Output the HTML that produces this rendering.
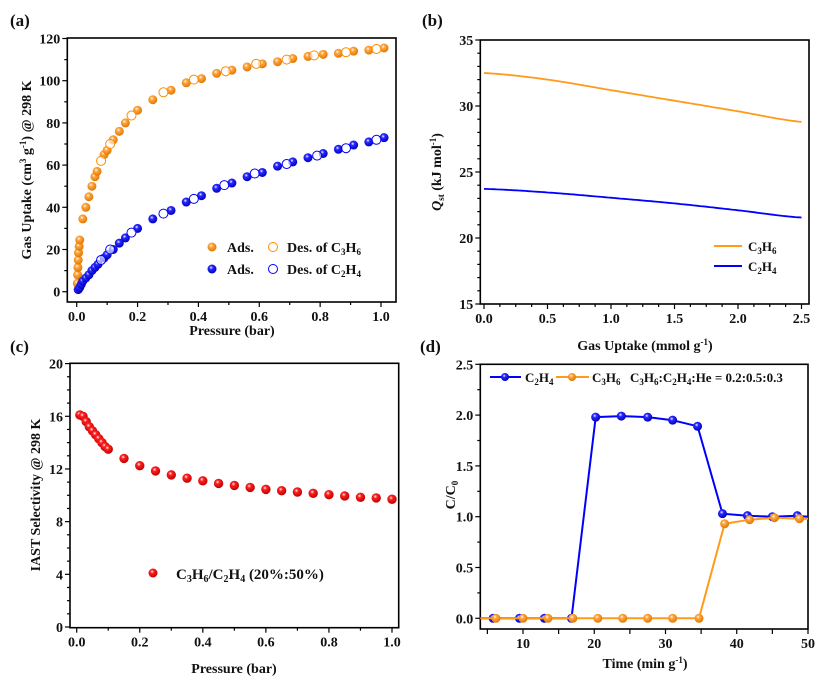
<!DOCTYPE html>
<html><head><meta charset="utf-8"><style>
html,body{margin:0;padding:0;background:#fff;}
svg text{font-family:"Liberation Serif",serif;font-weight:bold;fill:#111;}
</style></head><body>
<svg id="s" width="826" height="691" viewBox="0 0 826 691" xmlns="http://www.w3.org/2000/svg">
<defs>
<radialGradient id="go" cx="0.4" cy="0.35" r="0.65"><stop offset="0" stop-color="#fff"/><stop offset="0.3" stop-color="#ffa640"/><stop offset="1" stop-color="#e07800"/></radialGradient>
<radialGradient id="gb" cx="0.4" cy="0.35" r="0.65"><stop offset="0" stop-color="#fff"/><stop offset="0.3" stop-color="#2a2aff"/><stop offset="1" stop-color="#0000c0"/></radialGradient>
<radialGradient id="gr" cx="0.4" cy="0.35" r="0.65"><stop offset="0" stop-color="#fff"/><stop offset="0.3" stop-color="#ff2020"/><stop offset="1" stop-color="#c00000"/></radialGradient>
</defs>
<g id="g"></g>
<text x="10" y="26" font-size="17">(a)</text>
<text x="422" y="26" font-size="17">(b)</text>
<text x="10" y="352" font-size="17">(c)</text>
<text x="420" y="352" font-size="17">(d)</text>
<text x="232" y="335" font-size="14" text-anchor="middle">Pressure (bar)</text>
<text transform="translate(31,170) rotate(-90)" font-size="14" text-anchor="middle">Gas Uptake (cm<tspan font-size="9" dy="-5">3</tspan><tspan dy="5"> g</tspan><tspan font-size="9" dy="-5">-1</tspan><tspan dy="5">) @ 298 K</tspan></text>
<text x="645" y="350" font-size="14" text-anchor="middle">Gas Uptake (mmol g<tspan font-size="9" dy="-5">-1</tspan><tspan dy="5">)</tspan></text>
<text transform="translate(441,172) rotate(-90)" font-size="14" text-anchor="middle"><tspan font-style="italic">Q</tspan><tspan font-size="9" dy="3">st</tspan><tspan dy="-3"> (kJ mol</tspan><tspan font-size="9" dy="-5">-1</tspan><tspan dy="5">)</tspan></text>
<text x="234" y="673" font-size="14" text-anchor="middle">Pressure (bar)</text>
<text transform="translate(40,495) rotate(-90)" font-size="14" text-anchor="middle">IAST Selectivity @ 298 K</text>
<text x="645" y="668" font-size="14" text-anchor="middle">Time (min g<tspan font-size="9" dy="-5">-1</tspan><tspan dy="5">)</tspan></text>
<text transform="translate(455,495) rotate(-90)" font-size="14" text-anchor="middle">C/C<tspan font-size="9" dy="3">0</tspan></text>
<circle cx="212" cy="247" r="4.5" fill="url(#go)"/><text x="227" y="252" font-size="14">Ads.</text>
<circle cx="273" cy="247" r="4.5" fill="none" stroke="#ff8c00" stroke-width="1"/><text x="287" y="252" font-size="14">Des. of C<tspan font-size="9" dy="3">3</tspan><tspan dy="-3">H</tspan><tspan font-size="9" dy="3">6</tspan></text>
<circle cx="212" cy="269" r="4.5" fill="url(#gb)"/><text x="227" y="274" font-size="14">Ads.</text>
<circle cx="273" cy="269" r="4.5" fill="none" stroke="#0000ff" stroke-width="1"/><text x="287" y="274" font-size="14">Des. of C<tspan font-size="9" dy="3">2</tspan><tspan dy="-3">H</tspan><tspan font-size="9" dy="3">4</tspan></text>
<line x1="714" y1="246" x2="742" y2="246" stroke="#ff9a1a" stroke-width="2"/><text x="748" y="251" font-size="13" font-weight="normal">C<tspan font-size="9" dy="3">3</tspan><tspan dy="-3">H</tspan><tspan font-size="9" dy="3">6</tspan></text>
<line x1="714" y1="266" x2="742" y2="266" stroke="#0000ff" stroke-width="2"/><text x="748" y="271" font-size="13" font-weight="normal">C<tspan font-size="9" dy="3">2</tspan><tspan dy="-3">H</tspan><tspan font-size="9" dy="3">4</tspan></text>
<circle cx="153" cy="573" r="4.5" fill="url(#gr)"/><text x="176" y="579" font-size="15" font-weight="normal">C<tspan font-size="10" dy="3">3</tspan><tspan dy="-3">H</tspan><tspan font-size="10" dy="3">6</tspan><tspan dy="-3">/C</tspan><tspan font-size="10" dy="3">2</tspan><tspan dy="-3">H</tspan><tspan font-size="10" dy="3">4</tspan><tspan dy="-3"> (20%:50%)</tspan></text>
<line x1="490" y1="377" x2="521" y2="377" stroke="#0000ff" stroke-width="2"/><circle cx="505" cy="377" r="4" fill="url(#gb)"/>
<text x="525" y="382" font-size="13" font-weight="normal">C<tspan font-size="9" dy="3">2</tspan><tspan dy="-3">H</tspan><tspan font-size="9" dy="3">4</tspan></text>
<line x1="556" y1="377" x2="589" y2="377" stroke="#ff9a1a" stroke-width="2"/><circle cx="572" cy="377" r="4" fill="url(#go)"/>
<text x="592" y="382" font-size="13" font-weight="normal">C<tspan font-size="9" dy="3">3</tspan><tspan dy="-3">H</tspan><tspan font-size="9" dy="3">6</tspan></text>
<text x="630" y="382" font-size="13">C<tspan font-size="9" dy="3">3</tspan><tspan dy="-3">H</tspan><tspan font-size="9" dy="3">6</tspan><tspan dy="-3">:C</tspan><tspan font-size="9" dy="3">2</tspan><tspan dy="-3">H</tspan><tspan font-size="9" dy="3">4</tspan><tspan dy="-3">:He = 0.2:0.5:0.3</tspan></text>
</svg>
<script>
var G=document.getElementById('g'),NS="http://www.w3.org/2000/svg";
function el(t,a,p){var e=document.createElementNS(NS,t);for(var k in a)e.setAttribute(k,a[k]);(p||G).appendChild(e);return e;}
function txt(x,y,s,anc){var e=el('text',{x:x,y:y,'font-size':14,'text-anchor':anc||'middle'});e.textContent=s;}
function axes(L,R,T,B,xt,yt){
 el('rect',{x:L,y:T,width:R-L,height:B-T,fill:'none',stroke:'#000','stroke-width':1.6});
 xt.forEach(function(t){var len=t[2]?5:3;el('line',{x1:t[0],y1:B,x2:t[0],y2:B+len,stroke:'#000','stroke-width':1.2});if(t[1]!==null&&t[2])txt(t[0],B+19,t[1]);});
 yt.forEach(function(t){var len=t[2]?5:3;el('line',{x1:L,y1:t[0],x2:L-len,y2:t[0],stroke:'#000','stroke-width':1.2});if(t[1]!==null&&t[2])txt(L-7,t[0]+5,t[1],'end');});
}
function ticks(a0,a1,step,minorN,fmt,map){var r=[];var n=Math.round((a1-a0)/step);for(var i=0;i<=n;i++){var v=a0+i*step;r.push([map(v),fmt(v),1]);if(i<n)for(var j=1;j<minorN;j++)r.push([map(v+j*step/minorN),null,0]);}return r;}
var ax=function(p){return 76.7+p*304.3},ay=function(v){return 291.7-v*2.11};
axes(67.3,396,38,302,ticks(0,1,0.2,2,function(v){return v.toFixed(1)},ax),ticks(0,120,20,2,function(v){return String(Math.round(v))},ay));
var oa=[[0.002,4],[0.003,8],[0.004,11.5],[0.005,15],[0.006,18.5],[0.008,21.5],[0.01,24.5],[0.02,34.5],[0.03,40],[0.04,45],[0.05,50],[0.06,54.5],[0.067,57],[0.09,65],[0.1,67],[0.12,72],[0.14,76],[0.16,80],[0.2,86],[0.25,91],[0.31,95.5],[0.36,99],[0.41,101],[0.46,103.5],[0.51,105],[0.56,106.5],[0.61,108],[0.66,109],[0.71,110.5],[0.76,111.5],[0.81,112.5],[0.86,113],[0.91,114],[0.96,114.5],[1.01,115.5]];
var od=[[0.08,62],[0.11,70],[0.18,83.5],[0.285,94.5],[0.385,100.5],[0.49,104.5],[0.59,108],[0.69,110],[0.78,112],[0.885,113.5],[0.985,115]];
var ba=[[0.005,1],[0.01,2],[0.015,3.5],[0.02,5],[0.03,6.5],[0.04,8],[0.05,10],[0.06,11.5],[0.07,13],[0.09,16],[0.1,17.5],[0.12,20],[0.14,23],[0.16,25.5],[0.2,30],[0.25,34.5],[0.31,38.5],[0.36,42.5],[0.41,45.5],[0.46,49],[0.51,51.5],[0.56,54.5],[0.61,56.5],[0.66,59.5],[0.71,61.5],[0.76,63.5],[0.81,65.5],[0.86,67.5],[0.91,69.5],[0.96,71],[1.01,73]];
var bd=[[0.08,15],[0.11,20],[0.18,28],[0.285,37],[0.385,44],[0.485,50.5],[0.585,56],[0.69,60.5],[0.79,64.5],[0.885,68],[0.985,72]];
oa.forEach(function(d){el('circle',{cx:ax(d[0]),cy:ay(d[1]),r:4.5,fill:'url(#go)'})});
ba.forEach(function(d){el('circle',{cx:ax(d[0]),cy:ay(d[1]),r:4.5,fill:'url(#gb)'})});
od.forEach(function(d){el('circle',{cx:ax(d[0]),cy:ay(d[1]),r:4.5,fill:'#fff','fill-opacity':0.6,stroke:'#ff8c00','stroke-width':1})});
bd.forEach(function(d){el('circle',{cx:ax(d[0]),cy:ay(d[1]),r:4.5,fill:'#fff','fill-opacity':0.6,stroke:'#0000ff','stroke-width':1})});
var bx=function(u){return 484+u*127},by=function(v){return 304-(v-15)*13.2};
axes(480.3,809,40,304,ticks(0,2.5,0.5,4,function(v){return v.toFixed(1)},bx),ticks(15,35,5,5,function(v){return String(Math.round(v))},by));
function interp(P){return function(u){var i=Math.min(Math.floor(u/0.5),P.length-2);var t=(u-i*0.5)/0.5;
 var p0=P[Math.max(i-1,0)],p1=P[i],p2=P[i+1],p3=P[Math.min(i+2,P.length-1)];
 return 0.5*((2*p1)+(-p0+p2)*t+(2*p0-5*p1+4*p2-p3)*t*t+(-p0+3*p1-3*p2+p3)*t*t*t);}}
function curve(f,c){var s='';for(var i=0;i<=100;i++){var u=2.5*i/100;s+=(i?'L':'M')+bx(u).toFixed(1)+','+by(f(u)).toFixed(1);}el('path',{d:s,fill:'none',stroke:c,'stroke-width':1.8});}
curve(interp([32.5,32.0,31.2,30.4,29.6,28.8]),'#ff9a1a');
curve(interp([23.72,23.45,23.05,22.62,22.1,21.55]),'#0000ff');
var cx=function(p){return 76.7+p*315.3},cy=function(v){return 627-v*13.17};
axes(70,398.7,363.3,627.7,ticks(0,1,0.2,2,function(v){return v.toFixed(1)},cx),ticks(0,20,4,4,function(v){return String(Math.round(v))},cy));
var cs=[[0.01,16.1],[0.02,16.0],[0.03,15.6],[0.04,15.2],[0.05,14.9],[0.06,14.6],[0.07,14.3],[0.08,14.0],[0.09,13.7],[0.1,13.5],[0.15,12.8],[0.2,12.25],[0.25,11.85],[0.3,11.55],[0.35,11.3],[0.4,11.1],[0.45,10.9],[0.5,10.75],[0.55,10.6],[0.6,10.45],[0.65,10.35],[0.7,10.25],[0.75,10.15],[0.8,10.05],[0.85,9.95],[0.9,9.85],[0.95,9.8],[1.0,9.7]];
cs.forEach(function(d){el('circle',{cx:cx(d[0]),cy:cy(d[1]),r:4.7,fill:'url(#gr)'})});
var dx=function(t){return 523+(t-10)*7.125},dy=function(v){return 618.3-v*101.6};
axes(480.3,808,364.3,629,ticks(5,50,5,1,function(v){return v%10==0?String(v):null},dx).map(function(t){if(t[1]===null)t[2]=1;return t}),ticks(0,2.5,0.5,2,function(v){return v.toFixed(1)},dy));
var B=[[4,0],[5.8,0],[9.5,0],[13,0],[16.8,0],[20.2,1.98],[23.8,1.99],[27.5,1.98],[31,1.95],[34.5,1.89],[38,1.03],[41.5,1.01],[45,1.0],[48.5,1.01],[50,1.0]];
var O=[[4,0],[6.2,0],[10,0],[13.5,0],[17,0],[20.5,0],[24,0],[27.5,0],[31,0],[34.7,0],[38.3,0.93],[41.8,0.97],[45.3,0.99],[48.8,0.98],[50,0.98]];
function series(D,c,g){el('polyline',{points:D.map(function(d){return dx(d[0]).toFixed(1)+','+dy(d[1]).toFixed(1)}).join(' '),fill:'none',stroke:c,'stroke-width':2});D.slice(1,-1).forEach(function(d){el('circle',{cx:dx(d[0]),cy:dy(d[1]),r:4.5,fill:g})});}
series(B,'#0000ff','url(#gb)');series(O,'#ff9a1a','url(#go)');
</script>
</body></html>
